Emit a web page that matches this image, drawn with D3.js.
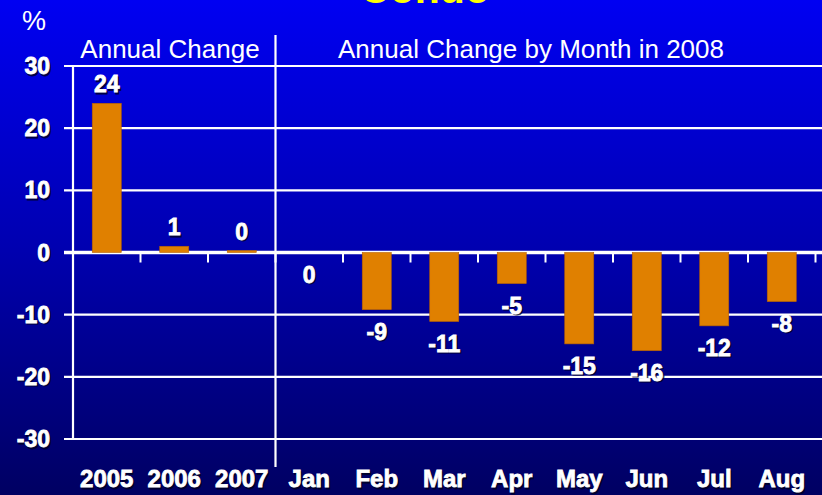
<!DOCTYPE html>
<html>
<head>
<meta charset="utf-8">
<script src="https://cdn.jsdelivr.net/npm/d3@7"></script>
<style>
  html, body { margin: 0; padding: 0; background: #000080; }
  svg { display: block; }
</style>
</head>
<body>
<div class="chart"></div>
<script>
// Chart data
const categories = ["2005", "2006", "2007", "Jan", "Feb", "Mar", "Apr", "May", "Jun", "Jul", "Aug"];
const values = [24, 1, 0.3, 0, -9.2, -11.1, -5, -14.7, -15.8, -11.8, -7.9];
const valueLabels = ["24", "1", "0", "0", "-9", "-11", "-5", "-15", "-16", "-12", "-8"];
const yTicks = [30, 20, 10, 0, -10, -20, -30];
const title = "Condo";
const groupTitles = ["Annual Change", "Annual Change by Month in 2008"];

const Width = 822, Height = 495;
const Plot = {left: 73, right: 815.5, top: 66, bottom: 439};

let svg = d3.select(".chart")
    .append("svg")
    .attr("width", Width)
    .attr("height", Height);

// Background gradient
let grad = svg.append("defs").append("linearGradient")
    .attr("id", "bg").attr("x1", 0).attr("y1", 0).attr("x2", 0).attr("y2", 1);
grad.append("stop").attr("offset", "0%").attr("stop-color", "#0000f2");
grad.append("stop").attr("offset", "50%").attr("stop-color", "#0000b0");
grad.append("stop").attr("offset", "100%").attr("stop-color", "#000062");
svg.append("rect").attr("width", Width).attr("height", Height).attr("fill", "url(#bg)");

let x = d3.scaleBand().domain(categories).range([Plot.left, Plot.right])
    .paddingInner(0.57).paddingOuter(0.285);
let y = d3.scaleLinear().domain([-30, 30]).range([Plot.bottom, Plot.top]);

const boldFont = "'Liberation Sans', Arial, sans-serif";

// shadowed bold text helper
function shadowText(g, xPos, yPos, txt, anchor, size) {
    g.append("text").attr("x", xPos + 1.5).attr("y", yPos + 1.5)
        .attr("text-anchor", anchor).attr("font-family", boldFont)
        .attr("font-weight", "bold").attr("font-size", size)
        .attr("stroke", "#000020").attr("stroke-width", 0.8)
        .attr("fill", "#000020").attr("opacity", 0.8).text(txt);
    g.append("text").attr("x", xPos).attr("y", yPos)
        .attr("text-anchor", anchor).attr("font-family", boldFont)
        .attr("font-weight", "bold").attr("font-size", size)
        .attr("stroke", "#ffffff").attr("stroke-width", 0.8)
        .attr("fill", "#ffffff").text(txt);
}

// Gridlines
svg.append("g").selectAll("line").data(yTicks).join("line")
    .attr("x1", 64).attr("x2", Width)
    .attr("y1", d => y(d)).attr("y2", d => y(d))
    .attr("stroke", "#ffffff")
    .attr("stroke-width", d => d === 0 ? 3.5 : 2.2);

// Y axis line
svg.append("line")
    .attr("x1", Plot.left).attr("x2", Plot.left)
    .attr("y1", y(30)).attr("y2", y(-30))
    .attr("stroke", "#ffffff").attr("stroke-width", 2.2);

// Y tick labels
let yLab = svg.append("g");
yTicks.forEach(t => shadowText(yLab, 50, y(t) + 8, String(t), "end", 23));

// Bars
svg.append("g").selectAll("rect").data(values).join("rect")
    .attr("x", (d, i) => x(categories[i]))
    .attr("width", x.bandwidth())
    .attr("y", d => d >= 0 ? y(d) : y(0))
    .attr("height", d => Math.abs(y(d) - y(0)))
    .attr("fill", "#e08000")
    .attr("stroke", "#b86000")
    .attr("stroke-width", 0.6);

// Zero line ticks at category boundaries
let gap = (x.step() - x.bandwidth()) / 2;
let bounds = categories.map(c => x(c) - gap).concat([Plot.right]);
svg.append("g").selectAll("line").data(bounds).join("line")
    .attr("x1", d => d).attr("x2", d => d)
    .attr("y1", y(0)).attr("y2", y(0) + 10)
    .attr("stroke", "#ffffff").attr("stroke-width", 2);

// Group separator
svg.append("line")
    .attr("x1", bounds[3]).attr("x2", bounds[3])
    .attr("y1", 35).attr("y2", 467)
    .attr("stroke", "#ffffff").attr("stroke-width", 2.2);

// Value labels
let vLab = svg.append("g");
values.forEach((v, i) => {
    let cx = x(categories[i]) + x.bandwidth() / 2;
    let yy = v > 0 ? y(v) - 11 : y(Math.min(v, 0)) + 30;
    shadowText(vLab, cx, yy, valueLabels[i], "middle", 23);
});

// X labels
let xLab = svg.append("g");
categories.forEach(c => shadowText(xLab, x(c) + x.bandwidth() / 2, 487, c, "middle", 24));

// Title and headers
svg.append("text").attr("x", 425).attr("y", 3)
    .attr("text-anchor", "middle").attr("font-family", boldFont)
    .attr("font-weight", "bold").attr("font-size", 41)
    .attr("fill", "#ffff00").text(title);

svg.append("text").attr("x", 22).attr("y", 30)
    .attr("font-family", "'Liberation Sans', Arial, sans-serif")
    .attr("font-size", 27).attr("fill", "#ffffff").text("%");

svg.append("text").attr("x", 170).attr("y", 58)
    .attr("text-anchor", "middle").attr("font-family", "'Liberation Sans', Arial, sans-serif")
    .attr("font-size", 26).attr("fill", "#ffffff").text(groupTitles[0]);

svg.append("text").attr("x", 531).attr("y", 58)
    .attr("text-anchor", "middle").attr("font-family", "'Liberation Sans', Arial, sans-serif")
    .attr("font-size", 26).attr("fill", "#ffffff").text(groupTitles[1]);
</script>
</body>
</html>
